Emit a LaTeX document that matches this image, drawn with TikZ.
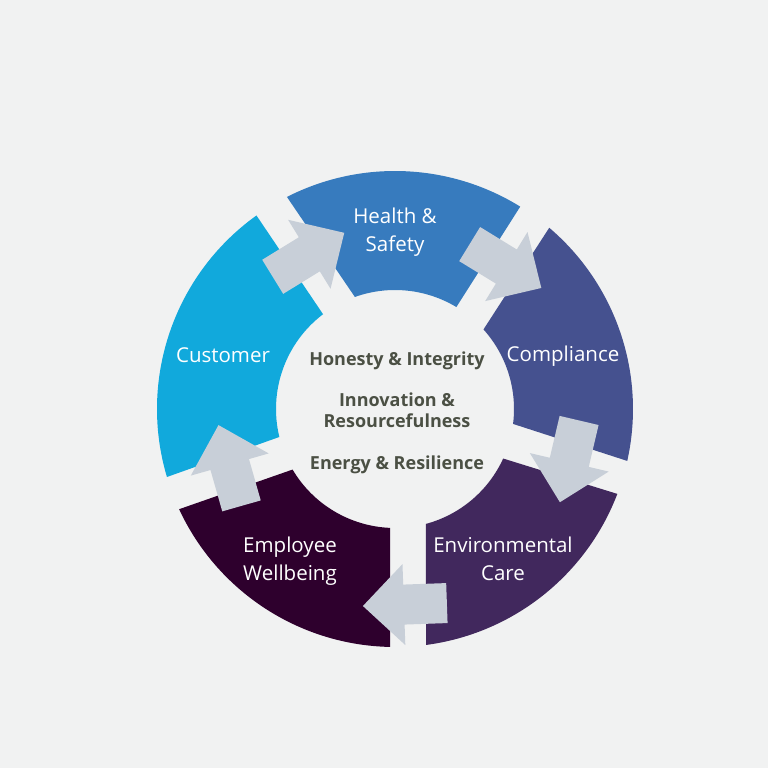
\documentclass[tikz,border=0pt]{standalone}
\usepackage{fontspec}
\setmainfont{Open Sans}
\usetikzlibrary{positioning,calc}

\definecolor{paper}{HTML}{F1F2F2}
\definecolor{healthblue}{HTML}{377BBE}
\definecolor{custblue}{HTML}{11A9DC}
\definecolor{complblue}{HTML}{45518F}
\definecolor{envpurple}{HTML}{41285D}
\definecolor{empplum}{HTML}{2E002D}
\definecolor{arrowgrey}{HTML}{C8CFD8}
\definecolor{coretext}{HTML}{4B5044}

\begin{document}
\begin{tikzpicture}[
  x=1pt, y=1pt,
  font=\fontsize{20.5}{28}\selectfont,
  lbl/.style={
     text=white,
     inner sep=0pt,
     align=center
  },
  core/.style={
     text=coretext,
     inner sep=0pt,
     font=\bfseries\fontsize{18}{21}\selectfont,
     align=center
  },
  flow/.style={fill=arrowgrey}
]

\fill[paper] (-395,-359) rectangle (373,409);
\useasboundingbox (-395,-359) rectangle (373,409);

\coordinate (hub) at (0,0);

% ring segments: outer from/to, inner from/to, colour
\foreach \oa/\ob/\ia/\ib/\col in {
    58.25/117.0/58.95/109.7/healthblue,
    125.6/196.6/127.2/193.6/custblue,
    204.9/268.8/210.6/267.6/empplum,
    -82.5/-20.9/-75.0/-24.6/envpurple,
    -12.6/49.6/-7.2/41.96/complblue}
  \fill[\col] ($(hub)+(\oa:238)$) arc[start angle=\oa, end angle=\ob, radius=238]
     -- ($(hub)+(\ib:119)$) arc[start angle=\ib, end angle=\ia, radius=119] -- cycle;

% block arrows between the segments: angle/radius of centre, heading
\foreach \pa/\pr/\dir in {119.3/176.8/31.6, 52.3/180.7/-31.5, -16.7/182.2/-103.2,
                         -87.1/195.8/182, 198.9/174.4/105.9}
  \fill[flow, shift={(\pa:\pr)}, rotate=\dir]
     (-42,-20) -- (1,-20) -- (1,-40.5) -- (42,0) -- (1,40.5) -- (1,20) -- (-42,20) -- cycle;

\node[lbl] (health)     at (0,177)      {Health \&\\Safety};
\node[lbl] (customer)   at (-172,54)    {Customer};
\node[lbl] (compliance) at (168,53)     {Compliance};
\node[lbl] (envcare)    at (108,-150)   {Environmental\\Care};
\node[lbl] (wellbeing)  at (-105,-152)  {Employee\\Wellbeing};

\node[core] (innovation) at (2,-1)                   {Innovation \&\\Resourcefulness};
\node[core, above=22pt of innovation] (honesty)      {Honesty \& Integrity};
\node[core, below=28pt of innovation] (energy)       {Energy \& Resilience};

\end{tikzpicture}
\end{document}
